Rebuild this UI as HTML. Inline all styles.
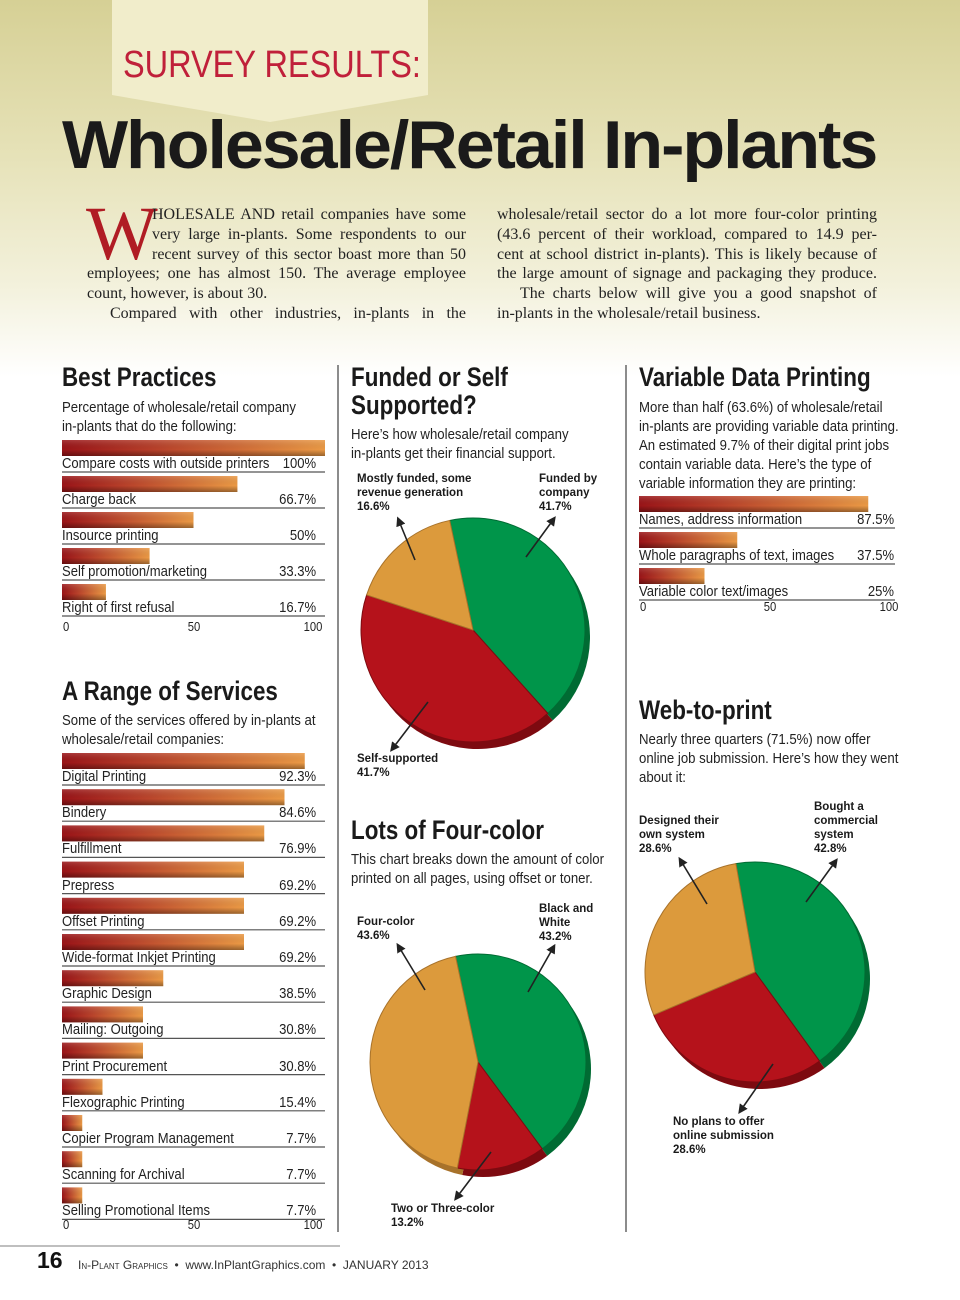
<!DOCTYPE html>
<html><head><meta charset="utf-8">
<style>
html,body{margin:0;padding:0}
body{width:960px;height:1300px;position:relative;overflow:hidden;background:linear-gradient(to bottom,#d6d095 0%,#e6e2b8 12%,#f3f1dc 22%,#ffffff 29%,#ffffff 100%);font-family:"Liberation Sans",sans-serif;color:#222}
.a{position:absolute;white-space:nowrap}
.serif{font-family:"Liberation Serif",serif;font-size:16px;color:#222}
.j{text-align:justify;text-align-last:justify;white-space:normal}
.n{font-family:"Liberation Sans Narrow","Liberation Sans",sans-serif}
.h{font-family:"Liberation Sans",sans-serif;font-weight:bold;font-size:27px;color:#1a1a1a;line-height:28px;transform:scaleX(0.83);transform-origin:left top}
.d{font-family:"Liberation Sans",sans-serif;font-size:14.5px;color:#222;line-height:19px;transform:scaleX(0.91);transform-origin:left top}
.pl{font-family:"Liberation Sans",sans-serif;font-weight:bold;font-size:11.5px;line-height:14px;color:#1a1a1a}
</style></head><body>
<svg class="a" style="left:0;top:0" width="960" height="1300">
<defs>
<linearGradient id="bg" x1="0" x2="1" y1="0" y2="0"><stop offset="0" stop-color="#9a1418"/><stop offset="0.35" stop-color="#b8402a"/><stop offset="1" stop-color="#eb9a45"/></linearGradient>
<linearGradient id="bs" x1="0" x2="0" y1="0" y2="1"><stop offset="0" stop-color="#fff" stop-opacity="0.15"/><stop offset="0.6" stop-color="#000" stop-opacity="0"/><stop offset="1" stop-color="#000" stop-opacity="0.35"/></linearGradient>
<marker id="ar" viewBox="0 0 10 10" refX="5" refY="5" markerWidth="6" markerHeight="6" orient="auto"><path d="M0,0 L10,5 L0,10 z" fill="#222"/></marker>
</defs>
<polygon points="112,0 428,0 428,95 270,122 112,95" fill="#f1edcb"/>
<line x1="338" y1="365" x2="338" y2="1232" stroke="#666" stroke-width="1.5"/>
<line x1="626" y1="365" x2="626" y2="1232" stroke="#666" stroke-width="1.5"/>
<line x1="0" y1="1246" x2="340" y2="1246" stroke="#aaa" stroke-width="1.5"/>
<g id="charts"></g>
</svg>

<div class="a" style="left:123px;top:44px;font-size:38px;color:#c0203a;font-family:'Liberation Sans',sans-serif;transform:scaleX(0.855);transform-origin:left top">SURVEY RESULTS:</div>
<div class="a" style="left:62px;top:106px;font-size:68px;font-weight:bold;letter-spacing:-2px;color:#1a1a1a;font-family:'Liberation Sans',sans-serif;transform:scaleX(1.03);transform-origin:left">Wholesale/Retail In-plants</div>

<div class="a" style="left:86px;top:196px;font-family:'Liberation Serif',serif;font-size:76px;color:#b01c24;line-height:76px">W</div>
<div class="a serif" style="left:152px;top:205px;width:314px;line-height:19.8px">
<div class="j">HOLESALE AND retail companies have some</div>
<div class="j">very large in-plants. Some respondents to our</div>
<div class="j">recent survey of this sector boast more than 50</div>
<div class="j" style="margin-left:-65px">employees; one has almost 150. The average employee</div>
<div style="margin-left:-65px">count, however, is about 30.</div>
<div class="j" style="margin-left:-42px">Compared with other industries, in-plants in the</div>
</div>
<div class="a serif" style="left:497px;top:205px;width:380px;line-height:19.8px">
<div class="j">wholesale/retail sector do a lot more four-color printing</div>
<div class="j">(43.6 percent of their workload, compared to 14.9 per-</div>
<div class="j">cent at school district in-plants). This is likely because of</div>
<div class="j">the large amount of signage and packaging they produce.</div>
<div class="j" style="margin-left:23px">The charts below will give you a good snapshot of</div>
<div>in-plants in the wholesale/retail business.</div>
</div>

<div class="a h" style="left:62px;top:363px">Best Practices</div>
<div class="a d" style="left:62px;top:399px">Percentage of wholesale/retail company<br>in-plants that do the following:</div>
<div class="a h" style="left:62px;top:677px">A Range of Services</div>
<div class="a d" style="left:62px;top:712px">Some of the services offered by in-plants at<br>wholesale/retail companies:</div>

<div class="a h" style="left:351px;top:363px">Funded or Self<br>Supported?</div>
<div class="a d" style="left:351px;top:426px">Here’s how wholesale/retail company<br>in-plants get their financial support.</div>
<div class="a pl" style="left:357px;top:472px">Mostly funded, some<br>revenue generation<br>16.6%</div>
<div class="a pl" style="left:539px;top:472px">Funded by<br>company<br>41.7%</div>
<div class="a pl" style="left:357px;top:752px">Self-supported<br>41.7%</div>

<div class="a h" style="left:351px;top:816px">Lots of Four-color</div>
<div class="a d" style="left:351px;top:851px">This chart breaks down the amount of color<br>printed on all pages, using offset or toner.</div>
<div class="a pl" style="left:357px;top:915px">Four-color<br>43.6%</div>
<div class="a pl" style="left:539px;top:902px">Black and<br>White<br>43.2%</div>
<div class="a pl" style="left:391px;top:1202px">Two or Three-color<br>13.2%</div>

<div class="a h" style="left:639px;top:363px">Variable Data Printing</div>
<div class="a d" style="left:639px;top:399px">More than half (63.6%) of wholesale/retail<br>in-plants are providing variable data printing.<br>An estimated 9.7% of their digital print jobs<br>contain variable data. Here’s the type of<br>variable information they are printing:</div>
<div class="a h" style="left:639px;top:696px">Web-to-print</div>
<div class="a d" style="left:639px;top:731px">Nearly three quarters (71.5%) now offer<br>online job submission. Here’s how they went<br>about it:</div>
<div class="a pl" style="left:639px;top:814px">Designed their<br>own system<br>28.6%</div>
<div class="a pl" style="left:814px;top:800px">Bought a<br>commercial<br>system<br>42.8%</div>
<div class="a pl" style="left:673px;top:1115px">No plans to offer<br>online submission<br>28.6%</div>

<div class="a" style="left:37px;top:1247px;font-size:23px;font-weight:bold;color:#111">16</div>
<div class="a" style="left:78px;top:1258px;font-size:12px;color:#333"><span style="font-variant:small-caps">In-Plant Graphics</span> &nbsp;•&nbsp; www.InPlantGraphics.com &nbsp;•&nbsp; JANUARY 2013</div>

<div id="labels"></div>

<script>
const bpCats = ["Compare costs with outside printers","Charge back","Insource printing","Self promotion/marketing","Right of first refusal"];
const bpVals = [100,66.7,50,33.3,16.7];
const bpLabels = ["100%","66.7%","50%","33.3%","16.7%"];
const svCats = ["Digital Printing","Bindery","Fulfillment","Prepress","Offset Printing","Wide-format Inkjet Printing","Graphic Design","Mailing: Outgoing","Print Procurement","Flexographic Printing","Copier Program Management","Scanning for Archival","Selling Promotional Items"];
const svVals = [92.3,84.6,76.9,69.2,69.2,69.2,38.5,30.8,30.8,15.4,7.7,7.7,7.7];
const svLabels = ["92.3%","84.6%","76.9%","69.2%","69.2%","69.2%","38.5%","30.8%","30.8%","15.4%","7.7%","7.7%","7.7%"];
const vdCats = ["Names, address information","Whole paragraphs of text, images","Variable color text/images"];
const vdVals = [87.5,37.5,25];
const vdLabels = ["87.5%","37.5%","25%"];
const axisTicks = [0,50,100];
const fundCats = ["Funded by company","Self-supported","Mostly funded, some revenue generation"];
const fundVals = [41.7,41.7,16.6];
const fourCats = ["Black and White","Two or Three-color","Four-color"];
const fourVals = [43.2,13.2,43.6];
const webCats = ["Bought a commercial system","No plans to offer online submission","Designed their own system"];
const webVals = [42.8,28.6,28.6];

const NS="http://www.w3.org/2000/svg";
const g=document.getElementById('charts');
const L=document.getElementById('labels');
function mk(tag,attrs,parent){const e=document.createElementNS(NS,tag);for(const k in attrs)e.setAttribute(k,attrs[k]);(parent||g).appendChild(e);return e;}
function txt(x,y,s,anchor,name,size){const e=document.createElement('div');e.className='a';e.textContent=s;e.style.fontSize=(size||14.5)+'px';e.style.top=(y-14)+'px';e.style.color='#222';
 e.style.transform='scaleX(0.9)';
 if(anchor==='end'){e.style.right=(960-x)+'px';e.style.transformOrigin='right top';}
 else if(anchor==='middle'){e.style.left=(x-20)+'px';e.style.width='40px';e.style.textAlign='center';e.style.transformOrigin='center top';}
 else {e.style.left=x+'px';e.style.transformOrigin='left top';}
 
 
 L.appendChild(e);return e;}

function barChart(id,cats,vals,labels,x0,w,top0,pitch,ruleEnd,valRight,axisY){
 const sx=v=>x0+v/100*w;
 const grp=mk('g',{});
 
 
 cats.forEach((c,i)=>{
  const y=top0+i*pitch;
  const r=mk('rect',{x:x0,y:y,width:sx(vals[i])-x0,height:16,fill:'url(#bg)'},grp);
  
  
  const s=mk('rect',{x:x0,y:y,width:sx(vals[i])-x0,height:16,fill:'url(#bs)'},grp);
  
  
  const ln=mk('line',{x1:x0,x2:ruleEnd,y1:y+32,y2:y+32,stroke:'#555','stroke-width':1.2},grp);
  
  
  txt(x0,y+30,c,'start',id+'-label-'+i);
  txt(valRight,y+30,labels[i],'end',id+'-value-'+i);
 });
 axisTicks.forEach((t,i)=>{
  const x=sx(t);
  const e=txt(i===0?x+1:x,axisY,String(t),i===0?'start':'middle',id+'-tick-'+i,12.5);
  if(i===2){e.style.left=(x-32)+'px';}
 });
}
barChart('best-practices',bpCats,bpVals,bpLabels,62,263,440,36,325,316,634);
barChart('services',svCats,svVals,svLabels,62,263,753,36.2,325,316,1232);
barChart('vdp',vdCats,vdVals,vdLabels,639,262,496,36,895,894,614);

const pieCols=[['#00954a','#006b33'],['#b5121b','#7d0a10'],['#dc9a3c','#a8722a']];
function pie(id,vals,cx,cy,r,start,arrows){
 const grp=mk('g',{});
 
 
 const tot=vals.reduce((a,b)=>a+b,0);
 [1,0].forEach(layer=>{
  let a=start;
  vals.forEach((v,i)=>{
   const a2=a+v/tot*360;
   const rad=d=>(d-90)*Math.PI/180;
   const ox=layer?5:0, oy=layer?7:0;
   const x1=cx+ox+r*Math.cos(rad(a)),y1=cy+oy+r*Math.sin(rad(a));
   const x2=cx+ox+r*Math.cos(rad(a2)),y2=cy+oy+r*Math.sin(rad(a2));
   const p=mk('path',{d:`M${cx+ox},${cy+oy} L${x1},${y1} A${r},${r} 0 ${a2-a>180?1:0} 1 ${x2},${y2} Z`,fill:pieCols[i][layer],stroke:layer?'none':pieCols[i][1],'stroke-width':1},grp);
   
   
   a=a2;
  });
 });
 arrows.forEach((ar,i)=>{
  const l=mk('line',{x1:ar[0],y1:ar[1],x2:ar[2],y2:ar[3],stroke:'#222','stroke-width':1.6,'marker-end':'url(#ar)'},grp);
  
  
 });
}
pie('funded',fundVals,473,630,112,-12,[[526,557,553,520],[428,702,393,748],[415,560,399,521]]);
pie('fourcolor',fourVals,478,1062,108,-12,[[528,992,553,948],[491,1152,457,1197],[425,990,399,947]]);
pie('web',webVals,755,972,110,-10,[[806,902,835,862],[773,1064,741,1110],[707,904,681,861]]);
</script>
</body></html>
